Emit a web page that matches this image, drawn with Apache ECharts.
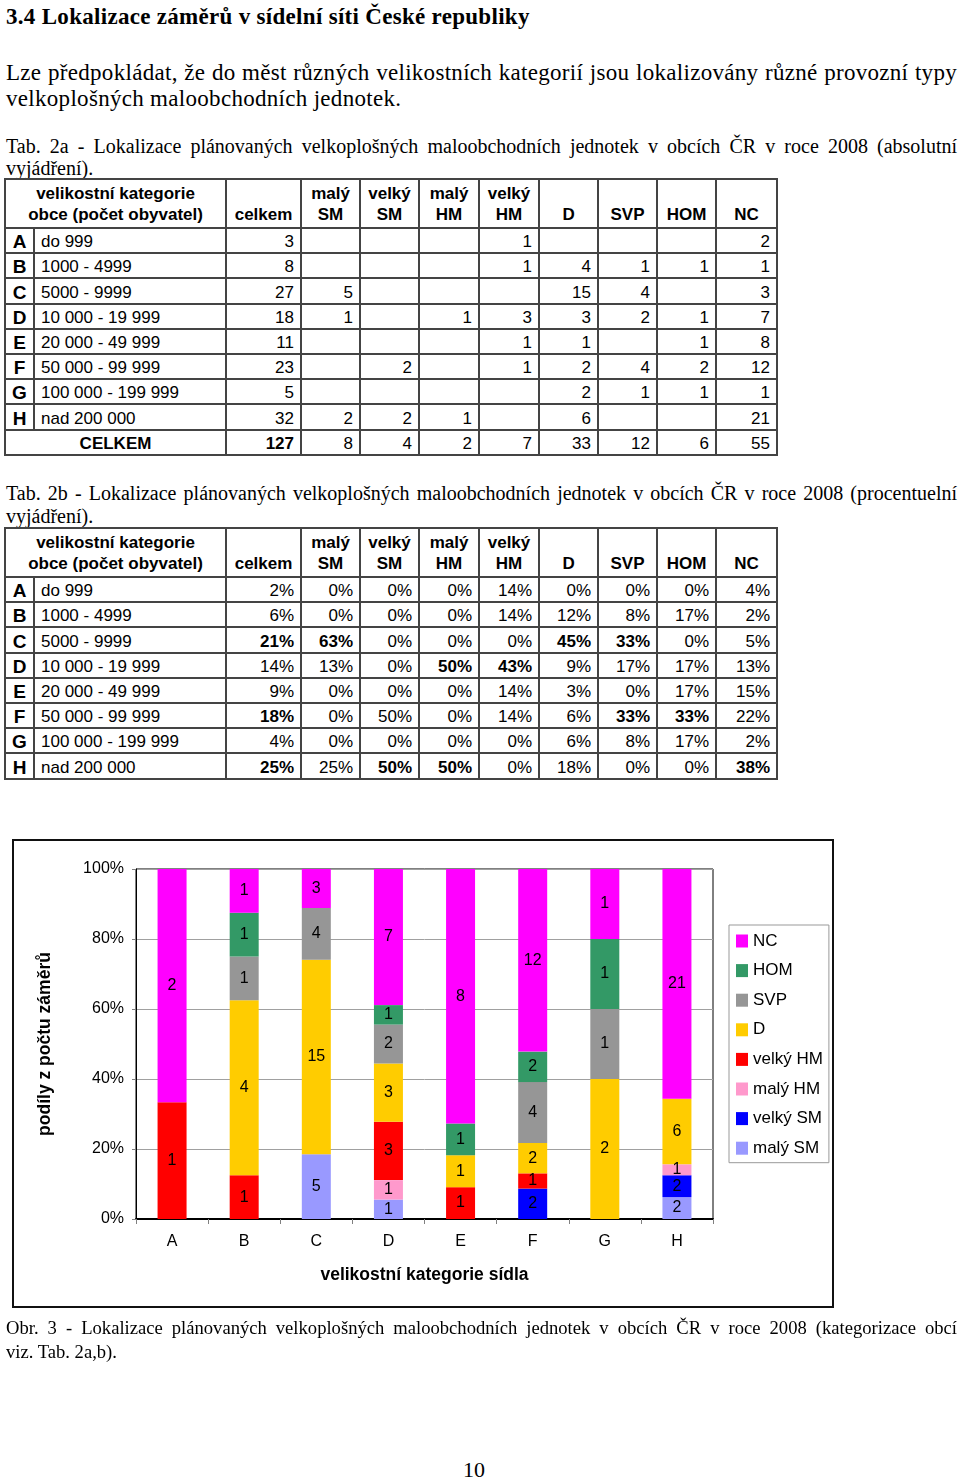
<!DOCTYPE html>
<html lang="cs">
<head>
<meta charset="utf-8">
<script src="https://cdn.jsdelivr.net/npm/echarts@6/dist/echarts.min.js"></script>
<style>
  html, body { margin:0; padding:0; background:#fff; }
  body { position:relative; width:960px; height:1480px; overflow:hidden; color:#000; }
  .serif { position:absolute; font-family:'Liberation Serif','Times New Roman',serif; white-space:nowrap; }
  .jl { display:block; text-align:justify; text-align-last:justify; white-space:normal; }
  .ll { display:block; text-align:left; }
  table.t { position:absolute; left:4px; border-collapse:collapse; table-layout:fixed; width:772px;
            font-family:'Liberation Sans',Arial,sans-serif; font-size:17px; color:#000; }
  table.t td, table.t th { border:2px solid #444; padding:0 6px 0 6px; line-height:20px; vertical-align:bottom;
            white-space:nowrap; overflow:hidden; }
  table.t th { font-weight:bold; text-align:center; padding:0 2px 2px 2px; line-height:21px; }
  table.t tr.h { height:49px; }
  table.t tr.r { height:25.2px; }
  table.t td.l { font-weight:bold; font-size:19px; text-align:center; padding:0; }
  table.t td.n { text-align:left; padding-left:6px; }
  table.t td.v { text-align:right; padding-right:6px; }
  table.t td.b { font-weight:bold; }
  table.t td.c { text-align:center; font-weight:bold; }
  #chart { position:absolute; left:0; top:830px; width:960px; height:490px; }
</style>
</head>
<body>
<div class="serif" style="left:6px; top:4px; font-size:23px; letter-spacing:0.3px; font-weight:bold; line-height:25px;">3.4 Lokalizace záměrů v sídelní síti České republiky</div>

<div class="serif" style="left:6px; top:60px; width:951px; font-size:23px; letter-spacing:0.3px; line-height:25.5px;">
  <span class="jl">Lze předpokládat, že do měst různých velikostních kategorií jsou lokalizovány různé provozní typy</span>
  <span class="ll">velkoplošných maloobchodních jednotek.</span>
</div>

<div class="serif" style="left:6px; top:135px; width:951px; font-size:20px; line-height:22px;">
  <span class="jl">Tab. 2a - Lokalizace plánovaných velkoplošných maloobchodních jednotek v obcích ČR v roce 2008 (absolutní</span>
  <span class="ll">vyjádření).</span>
</div>

<table class="t" id="tabA" style="top:178px;"></table>

<div class="serif" style="left:6px; top:482px; width:951px; font-size:20px; line-height:23px;">
  <span class="jl">Tab. 2b - Lokalizace plánovaných velkoplošných maloobchodních jednotek v obcích ČR v roce 2008 (procentuelní</span>
  <span class="ll">vyjádření).</span>
</div>

<table class="t" id="tabB" style="top:527px;"></table>

<div id="chart"></div>

<div class="serif" style="left:6px; top:1316px; width:951px; font-size:18.6px; line-height:23.5px;">
  <span class="jl">Obr. 3 - Lokalizace plánovaných velkoplošných maloobchodních jednotek v obcích ČR v roce 2008 (kategorizace obcí</span>
  <span class="ll">viz. Tab. 2a,b).</span>
</div>

<div class="serif" style="left:454px; width:40px; text-align:center; top:1457px; font-size:22px; line-height:25px;">10</div>

<script>
// ---------------- DATA ----------------
const categories = ['A', 'B', 'C', 'D', 'E', 'F', 'G', 'H'];
const sizeRanges = ['do 999', '1000 - 4999', '5000 - 9999', '10 000 - 19 999', '20 000 - 49 999',
                    '50 000 - 99 999', '100 000 - 199 999', 'nad 200 000'];
const columnNames = ['celkem', 'malý SM', 'velký SM', 'malý HM', 'velký HM', 'D', 'SVP', 'HOM', 'NC'];

// absolute counts (Tab. 2a)
const totals  = [3, 8, 27, 18, 11, 23, 5, 32];
const malySM  = [0, 0, 5, 1, 0, 0, 0, 2];
const velkySM = [0, 0, 0, 0, 0, 2, 0, 2];
const malyHM  = [0, 0, 0, 1, 0, 0, 0, 1];
const velkyHM = [1, 1, 0, 3, 1, 1, 0, 0];
const countD  = [0, 4, 15, 3, 1, 2, 2, 6];
const countSVP = [0, 1, 4, 2, 0, 4, 1, 0];
const countHOM = [0, 1, 0, 1, 1, 2, 1, 0];
const countNC  = [2, 1, 3, 7, 8, 12, 1, 21];
const totalRowLabel = 'CELKEM';
const columnTotals = [127, 8, 4, 2, 7, 33, 12, 6, 55];

// percentages (Tab. 2b)
const pctCelkem  = [2, 6, 21, 14, 9, 18, 4, 25];
const pctMalySM  = [0, 0, 63, 13, 0, 0, 0, 25];
const pctVelkySM = [0, 0, 0, 0, 0, 50, 0, 50];
const pctMalyHM  = [0, 0, 0, 50, 0, 0, 0, 50];
const pctVelkyHM = [14, 14, 0, 43, 14, 14, 0, 0];
const pctD   = [0, 12, 45, 9, 3, 6, 6, 18];
const pctSVP = [0, 8, 33, 17, 0, 33, 8, 0];
const pctHOM = [0, 17, 0, 17, 17, 33, 17, 0];
const pctNC  = [4, 2, 5, 13, 15, 22, 2, 38];
// highlighted (bold) cells of Tab. 2b as [row, column]
const pctHighlighted = [[2,0],[5,0],[7,0],[2,1],[7,2],[3,3],[7,3],[3,4],[2,5],[2,6],[5,6],[5,7],[7,8]];

// chart texts
const yAxisTitle = 'podíly z počtu záměrů';
const xAxisTitle = 'velikostní kategorie sídla';
const yTickValues = [0, 0.2, 0.4, 0.6, 0.8, 1];

// ---------------- TABLES ----------------
const colWidths = [29, 192, 75, 59, 59, 60, 60, 59, 59, 59, 61];
function colgroup() {
  return '<colgroup>' + colWidths.map(w => '<col style="width:' + w + 'px">').join('') + '</colgroup>';
}
function headerRow() {
  let h = '<tr class="h"><th colspan="2">velikostní kategorie<br>obce (počet obyvatel)</th>';
  columnNames.forEach(n => {
    const parts = n.split(' ');
    h += '<th>' + parts.join('<br>') + '</th>';
  });
  return h + '</tr>';
}
const countCols = [totals, malySM, velkySM, malyHM, velkyHM, countD, countSVP, countHOM, countNC];
const pctCols = [pctCelkem, pctMalySM, pctVelkySM, pctMalyHM, pctVelkyHM, pctD, pctSVP, pctHOM, pctNC];

let htmlA = colgroup() + headerRow();
categories.forEach((c, i) => {
  htmlA += '<tr class="r"><td class="l">' + c + '</td><td class="n">' + sizeRanges[i] + '</td>';
  countCols.forEach(col => { htmlA += '<td class="v">' + (col[i] ? col[i] : '') + '</td>'; });
  htmlA += '</tr>';
});
htmlA += '<tr class="r"><td colspan="2" class="c">' + totalRowLabel + '</td>';
columnTotals.forEach((v, j) => { htmlA += '<td class="v' + (j === 0 ? ' b' : '') + '">' + v + '</td>'; });
htmlA += '</tr>';
document.getElementById('tabA').innerHTML = htmlA;

const isHi = (r, c) => pctHighlighted.some(p => p[0] === r && p[1] === c);
let htmlB = colgroup() + headerRow();
categories.forEach((c, i) => {
  htmlB += '<tr class="r"><td class="l">' + c + '</td><td class="n">' + sizeRanges[i] + '</td>';
  pctCols.forEach((col, j) => { htmlB += '<td class="v' + (isHi(i, j) ? ' b' : '') + '">' + col[i] + '%</td>'; });
  htmlB += '</tr>';
});
document.getElementById('tabB').innerHTML = htmlB;

// ---------------- CHART ----------------
const seriesDefs = [
  { name: 'malý SM',  counts: malySM,   color: '#9999FF' },
  { name: 'velký SM', counts: velkySM,  color: '#0000FF' },
  { name: 'malý HM',  counts: malyHM,   color: '#FF99CC' },
  { name: 'velký HM', counts: velkyHM,  color: '#FF0000' },
  { name: 'D',        counts: countD,   color: '#FFCC00' },
  { name: 'SVP',      counts: countSVP, color: '#969696' },
  { name: 'HOM',      counts: countHOM, color: '#339966' },
  { name: 'NC',       counts: countNC,  color: '#FF00FF' }
];

const FONT = "'Liberation Sans', Arial, sans-serif";
const chart = echarts.init(document.getElementById('chart'), null, { renderer: 'canvas' });
chart.setOption({
  animation: false,
  textStyle: { fontFamily: FONT, color: '#000' },
  graphic: [{
    type: 'rect', silent: true,
    shape: { x: 13, y: 10, width: 820, height: 467 },
    style: { fill: 'none', stroke: '#111', lineWidth: 2 }
  }],
  grid: { left: 136, top: 39, width: 577, height: 350, show: true, borderColor: '#000', borderWidth: 1,
          backgroundColor: 'transparent' },
  legend: {
    orient: 'vertical', left: 729, top: 95,
    data: seriesDefs.map(s => s.name).reverse(),
    itemWidth: 12, itemHeight: 13, itemGap: 12.6,
    padding: [7.5, 6, 6, 7],
    borderColor: '#999', borderWidth: 1,
    icon: 'rect',
    textStyle: { fontFamily: FONT, fontSize: 17, lineHeight: 17, color: '#000' },
    selectedMode: false
  },
  xAxis: {
    type: 'category', data: categories,
    axisLine: { show: true, lineStyle: { color: '#000', width: 2 } },
    axisTick: { show: true, alignWithLabel: false, interval: 0, length: 5, lineStyle: { color: '#808080' } },
    axisLabel: { fontSize: 16, color: '#000', margin: 15, fontFamily: FONT },
    name: xAxisTitle, nameLocation: 'middle', nameGap: 47,
    nameTextStyle: { fontSize: 17.5, fontWeight: 'bold', color: '#000', fontFamily: FONT }
  },
  yAxis: {
    type: 'value', min: yTickValues[0], max: yTickValues[yTickValues.length - 1], interval: 0.2,
    axisLine: { show: true, lineStyle: { color: '#000', width: 1 } },
    axisTick: { show: true, length: 4, lineStyle: { color: '#808080' } },
    axisLabel: { fontSize: 16, color: '#000', margin: 12, fontFamily: FONT,
                 formatter: v => Math.round(v * 100) + '%' },
    splitLine: { show: true, lineStyle: { color: '#A0A0A0', width: 1 } },
    name: yAxisTitle, nameLocation: 'middle', nameGap: 82,
    nameTextStyle: { fontSize: 17.5, fontWeight: 'bold', color: '#000', fontFamily: FONT }
  },
  series: seriesDefs.map(s => ({
    name: s.name, type: 'bar', stack: 'share', barWidth: 29,
    data: s.counts.map((c, i) => c / totals[i]),
    itemStyle: { color: s.color },
    emphasis: { disabled: true },
    label: {
      show: true, position: 'inside', fontSize: 16, color: '#000', fontFamily: FONT,
      formatter: p => (s.counts[p.dataIndex] ? String(s.counts[p.dataIndex]) : '')
    }
  }))
});
</script>
</body>
</html>
